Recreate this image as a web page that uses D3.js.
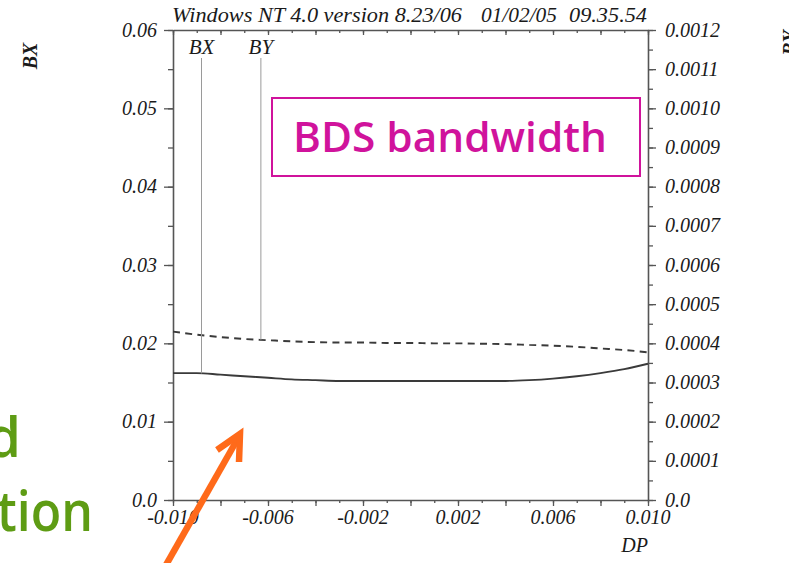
<!DOCTYPE html>
<html>
<head>
<meta charset="utf-8">
<script src="https://cdn.jsdelivr.net/npm/d3@7"></script>
<style>
  html, body { margin: 0; padding: 0; background: #fff; }
  svg { display: block; }
  .tick-label { font-family: "Liberation Serif", "DejaVu Serif", serif; font-style: italic; font-size: 20px; fill: #1a1a1a; }
</style>
</head>
<body>
<svg id="chart" width="789" height="563"></svg>
<script>
// Momentum offset DP (horizontal axis)
const dp = [-0.010, -0.009, -0.008, -0.007, -0.006, -0.005, -0.004, -0.003, -0.002, -0.001,
            0.000, 0.001, 0.002, 0.003, 0.004, 0.005, 0.006, 0.007, 0.008, 0.009, 0.010];
// BX beam size (left axis, solid line)
const bx = [0.0162, 0.0162, 0.0160, 0.0158, 0.0156, 0.0154, 0.0153, 0.0152, 0.0152, 0.0152,
            0.0152, 0.0152, 0.0152, 0.0152, 0.0152, 0.0153, 0.0155, 0.0158, 0.0162, 0.0167, 0.0174];
// BY beam size (right axis, dashed line)
const by = [0.000430, 0.000422, 0.000416, 0.000411, 0.000408, 0.000405, 0.000403, 0.000402, 0.000402, 0.000401,
            0.000401, 0.000400, 0.000400, 0.000399, 0.000398, 0.000396, 0.000394, 0.000391, 0.000387, 0.000383, 0.000377];

// Tick labels
const xTickValues = [-0.010, -0.006, -0.002, 0.002, 0.006, 0.010];
const leftTickValues = [0, 0.01, 0.02, 0.03, 0.04, 0.05, 0.06];
const leftTickLabels = ["0.0", "0.01", "0.02", "0.03", "0.04", "0.05", "0.06"];
const rightTickValues = [0, 0.0001, 0.0002, 0.0003, 0.0004, 0.0005, 0.0006, 0.0007, 0.0008, 0.0009, 0.0010, 0.0011, 0.0012];
const rightTickLabels = ["0.0", "0.0001", "0.0002", "0.0003", "0.0004", "0.0005", "0.0006", "0.0007", "0.0008", "0.0009", "0.0010", "0.0011", "0.0012"];

// Curve markers
const markerNames = ["BX", "BY"];
const markerDP = [-0.0088, -0.0063];

// Header text
const headerParts = ["Windows NT 4.0 version 8.23/06", "01/02/05", "09.35.54"];

const svg = d3.select("#chart");
const axisColor = "#555";

const x = d3.scaleLinear().domain([-0.01, 0.01]).range([173, 648]);
const yL = d3.scaleLinear().domain([0, 0.06]).range([500, 30]);
const yR = d3.scaleLinear().domain([0, 0.0012]).range([500, 30]);

function styleAxis(g) {
  g.select(".domain").attr("stroke", axisColor).attr("stroke-width", 1.6);
  g.selectAll(".tick line").attr("stroke", axisColor).attr("stroke-width", 1.3);
}

// Bottom axis: minor ticks every 0.001, major every 0.002
svg.append("g").attr("transform", "translate(0,500)")
  .call(d3.axisBottom(x).tickValues(x.ticks(20)).tickSize(3).tickSizeOuter(0).tickFormat(""))
  .call(styleAxis);
svg.append("g").attr("transform", "translate(0,500)")
  .call(d3.axisBottom(x).tickValues(x.ticks(10)).tickSize(6).tickSizeOuter(0).tickFormat(""))
  .call(g => g.select(".domain").remove())
  .call(styleAxis);
// Top axis: inward ticks, no labels
svg.append("g").attr("transform", "translate(0,30)")
  .call(d3.axisBottom(x).tickValues(x.ticks(20)).tickSize(3).tickSizeOuter(0).tickFormat(""))
  .call(styleAxis);
svg.append("g").attr("transform", "translate(0,30)")
  .call(d3.axisBottom(x).tickValues(x.ticks(10)).tickSize(5).tickSizeOuter(0).tickFormat(""))
  .call(g => g.select(".domain").remove())
  .call(styleAxis);

// Left axis
svg.append("g").attr("transform", "translate(173,0)")
  .call(d3.axisLeft(yL).tickValues(d3.range(13).map(i => i * 0.005)).tickSize(5).tickSizeOuter(0).tickFormat(""))
  .call(styleAxis);
svg.append("g").attr("transform", "translate(173,0)")
  .call(d3.axisLeft(yL).tickValues(leftTickValues).tickSize(9).tickSizeOuter(0).tickFormat(""))
  .call(g => g.select(".domain").remove())
  .call(styleAxis);

// Right axis
svg.append("g").attr("transform", "translate(648,0)")
  .call(d3.axisRight(yR).tickValues(d3.range(25).map(i => i * 0.00005)).tickSize(5).tickSizeOuter(0).tickFormat(""))
  .call(styleAxis);
svg.append("g").attr("transform", "translate(648,0)")
  .call(d3.axisRight(yR).tickValues(rightTickValues).tickSize(8).tickSizeOuter(0).tickFormat(""))
  .call(g => g.select(".domain").remove())
  .call(styleAxis);

// Tick labels
svg.append("g").selectAll("text").data(xTickValues).join("text")
  .attr("class", "tick-label").attr("text-anchor", "middle")
  .attr("x", d => x(d)).attr("y", 524)
  .text(d => d.toFixed(3));
svg.append("g").selectAll("text").data(leftTickValues).join("text")
  .attr("class", "tick-label").attr("text-anchor", "end")
  .attr("x", 157).attr("y", d => yL(d)).attr("dy", "0.33em")
  .text((d, i) => leftTickLabels[i]);
svg.append("g").selectAll("text").data(rightTickValues).join("text")
  .attr("class", "tick-label").attr("text-anchor", "start")
  .attr("x", 665).attr("y", d => yR(d)).attr("dy", "0.33em")
  .text((d, i) => rightTickLabels[i]);

// Axis titles
svg.append("text").attr("class", "tick-label").attr("text-anchor", "end")
  .attr("x", 648).attr("y", 552).text("DP");
svg.append("text").attr("class", "tick-label").attr("text-anchor", "middle")
  .style("font-size", "20px").style("font-weight", 600)
  .attr("transform", "translate(37,56) rotate(-90)").text("BX");
svg.append("text").attr("class", "tick-label").attr("text-anchor", "middle")
  .style("font-size", "20px").style("font-weight", 600)
  .attr("transform", "translate(797,43) rotate(-90)").text("BY");

// Header line
const headerX = [172, 481, 569];
const headerW = [290, 76, 78];
svg.append("g").selectAll("text").data(headerParts).join("text")
  .attr("class", "tick-label")
  .attr("x", (d, i) => headerX[i]).attr("y", 22)
  .attr("textLength", (d, i) => headerW[i]).attr("lengthAdjust", "spacingAndGlyphs")
  .text(d => d);

// Curves
const lineBX = d3.line().x((d, i) => x(dp[i])).y(d => yL(d)).curve(d3.curveMonotoneX);
const lineBY = d3.line().x((d, i) => x(dp[i])).y(d => yR(d)).curve(d3.curveMonotoneX);
svg.append("path").datum(bx).attr("d", lineBX)
  .attr("fill", "none").attr("stroke", "#3a3a3a").attr("stroke-width", 1.9);
svg.append("path").datum(by).attr("d", lineBY)
  .attr("fill", "none").attr("stroke", "#3a3a3a").attr("stroke-width", 1.9)
  .attr("stroke-dasharray", "7,5.3");

// Marker lines from label down to their curve
const interp = (arr, v) => {
  const i = Math.min(dp.length - 2, Math.max(0, d3.bisectRight(dp, v) - 1));
  const t = (v - dp[i]) / (dp[i + 1] - dp[i]);
  return arr[i] + t * (arr[i + 1] - arr[i]);
};
const markerEndY = [yL(interp(bx, markerDP[0])), yR(interp(by, markerDP[1]))];
svg.append("g").selectAll("line").data(markerDP).join("line")
  .attr("x1", d => x(d)).attr("x2", d => x(d))
  .attr("y1", 58).attr("y2", (d, i) => markerEndY[i])
  .attr("stroke", "#9a9a9a").attr("stroke-width", 1);
svg.append("g").selectAll("text").data(markerDP).join("text")
  .attr("class", "tick-label").attr("text-anchor", "middle")
  .style("font-size", "21px")
  .attr("x", d => x(d)).attr("y", 54)
  .text((d, i) => markerNames[i]);

// Title box
svg.append("rect").attr("x", 272).attr("y", 98).attr("width", 368).attr("height", 78)
  .attr("fill", "none").attr("stroke", "#d0139c").attr("stroke-width", 2);
svg.append("text").attr("x", 293).attr("y", 152)
  .attr("textLength", 314).attr("lengthAdjust", "spacingAndGlyphs")
  .style("font-family", "'Open Sans', 'Noto Sans', sans-serif")
  .style("font-weight", 600).style("font-size", "42px").style("fill", "#d0139c")
  .text("BDS bandwidth");

// Slide caption fragments on the left
svg.append("text").attr("x", 21).attr("y", 457).attr("text-anchor", "end")
  .style("font-family", "'Open Sans', 'Noto Sans', sans-serif").style("font-weight", 600)
  .style("font-size", "56px").style("fill", "#5e9c14").text("d");
svg.append("text").attr("x", 93).attr("y", 531).attr("text-anchor", "end")
  .attr("textLength", 96).attr("lengthAdjust", "spacingAndGlyphs")
  .style("font-family", "'Open Sans', 'Noto Sans', sans-serif").style("font-weight", 600)
  .style("font-size", "56px").style("fill", "#5e9c14").text("tion");

// Orange pointer arrow
svg.append("line").attr("x1", 162).attr("y1", 572).attr("x2", 237).attr("y2", 440)
  .attr("stroke", "#ff6a1a").attr("stroke-width", 6.5);
svg.append("polyline").attr("points", "217,450 240,434 239,462")
  .attr("fill", "none").attr("stroke", "#ff6a1a").attr("stroke-width", 6.5)
  .attr("stroke-linejoin", "miter").attr("stroke-linecap", "butt");
</script>
</body>
</html>
